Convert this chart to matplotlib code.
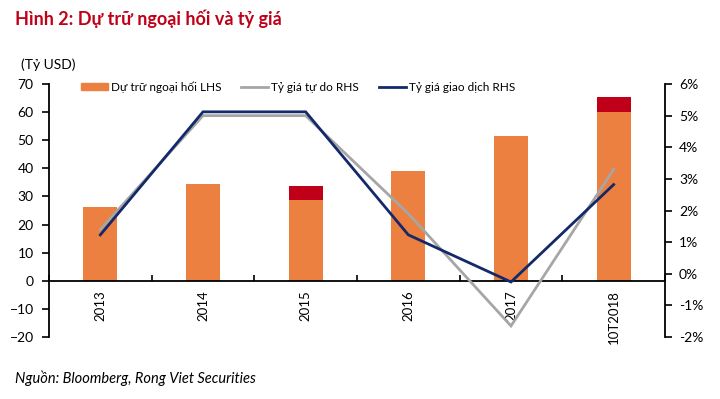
import numpy as np
import matplotlib
matplotlib.use('Agg')
import matplotlib.pyplot as plt
from matplotlib.patches import Patch
from matplotlib.lines import Line2D

plt.rcParams['font.family'] = ['Lato', 'DejaVu Sans']

# data
years = ['2013', '2014', '2015', '2016', '2017', '10T2018']
reserve_base = [26.3, 34.6, 28.7, 39.0, 51.5, 60.0]   # orange part (bn USD)
reserve_extra = [0, 0, 5.0, 0, 0, 5.2]                # red part on top
rate_free = [1.4, 5.0, 5.0, 1.9, -1.65, 3.3]          # %
rate_official = [1.23, 5.12, 5.12, 1.23, -0.26, 2.82] # %

ORANGE = '#EB8040'
RED = '#C00018'
GRAY = '#A6A6A6'
NAVY = '#13296A'

fig = plt.figure(figsize=(7.2, 3.99), dpi=100)
ax = fig.add_axes([49/720, 1-337/399, (665-49)/720, (337-84)/399])
ax2 = ax.twinx()

x = np.arange(len(years))
ax.bar(x, reserve_base, width=0.33, color=ORANGE, zorder=2)
ax.bar(x, reserve_extra, width=0.33, bottom=reserve_base, color=RED, zorder=2)

ax2.plot(x, rate_free, color=GRAY, lw=2.0, solid_joinstyle='miter')
ax2.plot(x, rate_official, color=NAVY, lw=2.0, solid_joinstyle='miter')

ax.set_xlim(-0.5, len(years) - 0.5)
ax.set_ylim(-20, 70)
ax.set_yticks(range(-20, 71, 10))
ax2.set_ylim(-2, 6)
ax2.set_yticks(range(-2, 7))
ax2.set_yticklabels([f'{v}%' for v in range(-2, 7)])

# spines
for s in ['top', 'right']:
    ax.spines[s].set_visible(False)
for s in ['top', 'left', 'bottom']:
    ax2.spines[s].set_visible(False)
ax.spines['bottom'].set_position(('data', 0))
for sp in [ax.spines['left'], ax.spines['bottom'], ax2.spines['right']]:
    sp.set_linewidth(1.3)
    sp.set_color('black')

ax.set_xticks(x)
ax.set_xticklabels(years, rotation=90, fontsize=9.5)
ax.set_xticks(np.arange(len(years) + 1) - 0.5, minor=True)
ax.tick_params(axis='x', which='major', length=0, pad=7)
ax.tick_params(axis='x', which='minor', direction='in', length=4, width=1.2)
ax.tick_params(axis='y', direction='out', length=5, width=1.2, labelsize=10, pad=6)
ax2.tick_params(axis='y', direction='out', length=5, width=1.2, labelsize=10, pad=5)

handles = [Patch(color=ORANGE), Line2D([], [], color=GRAY, lw=2.0),
           Line2D([], [], color=NAVY, lw=2.0)]
labels = ['Dự trữ ngoại hối LHS', 'Tỷ giá tự do RHS', 'Tỷ giá giao dịch RHS']
fig.legend(handles, labels, ncol=3, loc='center', bbox_to_anchor=(298/720, 1-87/399),
           frameon=False, fontsize=8.5, handlelength=2.3, handleheight=0.6,
           handletextpad=0.25, columnspacing=1.7)

fig.text(15/720, 1-25/399, 'Hình 2: Dự trữ ngoại hối và tỷ giá', color='#C00018',
         fontsize=13, fontweight='bold', va='baseline')
fig.text(21/720, 1-69/399, '(Tỷ USD)', fontsize=10, va='baseline')
fig.text(15/720, 1-383/399, 'Nguồn: Bloomberg, Rong Viet Securities', fontsize=10.5,
         style='italic', va='baseline')

fig.savefig('out.png', dpi=100)
